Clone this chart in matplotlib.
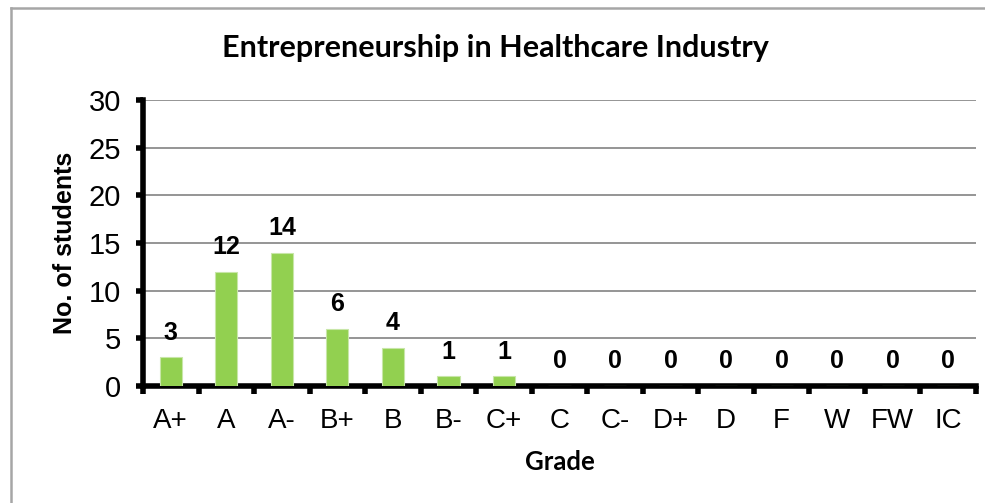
import matplotlib
matplotlib.use("Agg")
import matplotlib.pyplot as plt
from matplotlib.lines import Line2D

grades = ["A+", "A", "A-", "B+", "B", "B-", "C+", "C", "C-", "D+", "D", "F", "W", "FW", "IC"]
students = [3, 12, 14, 6, 4, 1, 1, 0, 0, 0, 0, 0, 0, 0, 0]
yticks = [0, 5, 10, 15, 20, 25, 30]

W, H = 985, 503
fig = plt.figure(figsize=(W / 100, H / 100), dpi=100)
ax = fig.add_axes([143 / W, (H - 386) / H, 833 / W, 286 / H])

x = list(range(len(grades)))
ax.bar(x, students, width=0.4, color="#92D050", edgecolor="#c8e6a8", linewidth=0.8, zorder=3)

for xi, v in zip(x, students):
    ax.annotate(str(v), (xi, v), xytext=(0, 9), textcoords="offset points",
                ha="center", va="bottom", fontsize=18, fontweight="bold",
                family="Liberation Sans", zorder=4)

ax.set_xlim(-0.5, len(grades) - 0.5)
ax.set_ylim(0, 30)
ax.set_yticks(yticks)
ax.set_yticklabels([str(t) for t in yticks], family="Liberation Sans", fontsize=21)
ax.yaxis.grid(True, color="#8c8c8c", linewidth=1.3, zorder=0)
ax.set_axisbelow(True)

# category separators as ticks
ax.set_xticks([i - 0.5 for i in range(len(grades) + 1)])
ax.set_xticklabels([])
ax.set_xticks(x, minor=True)
ax.set_xticklabels(grades, minor=True, family="Liberation Sans", fontsize=20)
ax.tick_params(axis="x", which="minor", length=0, pad=16)
ax.tick_params(axis="x", which="major", length=6, width=4, direction="out", color="black")
ax.tick_params(axis="y", length=5, width=4, direction="out", color="black", pad=11)

for s in ["top", "right"]:
    ax.spines[s].set_visible(False)
for s in ["left", "bottom"]:
    ax.spines[s].set_linewidth(4)
    ax.spines[s].set_color("black")
    ax.spines[s].set_capstyle("projecting")

ax.set_ylabel("No. of students", family="Liberation Sans", fontsize=18, fontweight="bold", labelpad=8)
ax.set_xlabel("Grade", family="Lato", fontsize=18.5, fontweight="bold", labelpad=11)

fig.text(495 / W, 1 - 57 / H, "Entrepreneurship in Healthcare Industry", ha="center", va="baseline",
         family="Lato", fontsize=22, fontweight="bold")

# outer chart border (left and top visible)
fig.add_artist(Line2D([11 / W, 11 / W], [0, 1 - 8 / H], transform=fig.transFigure, color="#a6a6a6", linewidth=1.8))
fig.add_artist(Line2D([11 / W, 1], [1 - 8 / H, 1 - 8 / H], transform=fig.transFigure, color="#a6a6a6", linewidth=1.8))

fig.savefig("out.png", dpi=100)
